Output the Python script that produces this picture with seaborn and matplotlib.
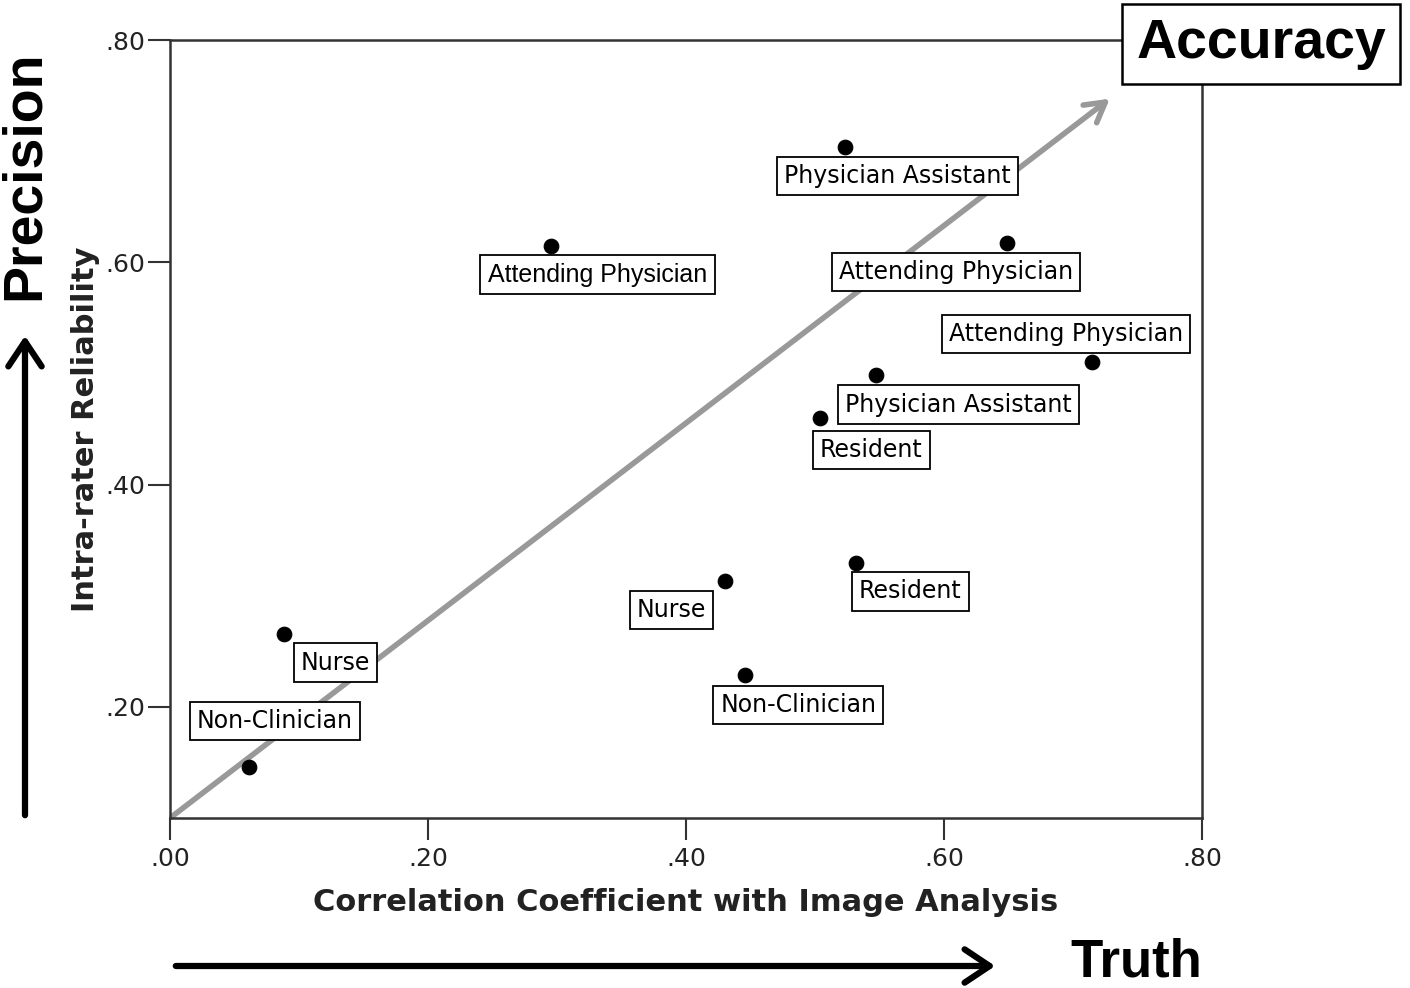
import matplotlib
matplotlib.use("Agg")
import matplotlib.pyplot as plt
from matplotlib.patches import FancyArrowPatch
import pandas as pd
import seaborn as sns

# values
roles = [
  "Non-Clinician", "Nurse", "Attending Physician", "Nurse", "Non-Clinician", "Resident",
  "Physician Assistant", "Resident", "Physician Assistant", "Attending Physician", "Attending Physician",
]
correlation = [0.061, 0.088, 0.295, 0.430, 0.446, 0.504, 0.523, 0.532, 0.547, 0.649, 0.715]
reliability = [0.146, 0.266, 0.615, 0.313, 0.229, 0.460, 0.704, 0.329, 0.499, 0.617, 0.510]
tick_values = [0.0, 0.2, 0.4, 0.6, 0.8]
tick_labels = [".00", ".20", ".40", ".60", ".80"]

# label offsets from each point, in pixels (dx right, dy down)
label_offsets = [(26, -46), (52, 29), (47, 29), (-53, 29), (53, 30), (51, 32),
                 (53, 29), (54, 28), (83, 30), (-51, 29), (-26, -28)]

df = pd.DataFrame({"role": roles, "x": correlation, "y": reliability})

sns.set_style("white")
plt.rcParams["font.family"] = ["DejaVu Sans"]

fig = plt.figure(figsize=(14.1, 9.88), dpi=100)
ax = fig.add_axes([170 / 1410, 1 - 818 / 988, (1202 - 170) / 1410, (818 - 40) / 988])

# gray "accuracy" arrow drawn first, under the points
ax.annotate("", xy=(1112, 988 - 97), xycoords="figure pixels", xytext=(170, 988 - 818),
            textcoords="figure pixels",
            arrowprops=dict(arrowstyle="->,head_length=1.4,head_width=0.8", color="#999999", lw=4),
            zorder=1, annotation_clip=False)

sns.scatterplot(data=df, x="x", y="y", ax=ax, color="black", s=110, edgecolor="black", zorder=3, legend=False)

for i, (role, xv, yv) in enumerate(zip(roles, correlation, reliability)):
  dx, dy = label_offsets[i]
  fam = "Liberation Sans" if i == 2 else "DejaVu Sans"
  fs = 18 if i == 2 else 17
  ax.annotate(role, xy=(xv, yv), xytext=(dx * 0.72, -dy * 0.72), textcoords="offset points",
              ha="center", va="center", fontsize=fs, family=fam, color="black", zorder=4,
              bbox=dict(boxstyle="square,pad=0.3", fc="white", ec="black", lw=1.3))

ax.set_xlim(0, 0.8)
ax.set_ylim(0.10, 0.80)
ax.set_xticks(tick_values)
ax.set_xticklabels(tick_labels)
ax.set_yticks(tick_values[1:])
ax.set_yticklabels(tick_labels[1:])
ax.tick_params(axis="both", direction="out", length=16, width=1.5, color="#333333",
               labelsize=18, labelcolor="#222222", pad=2, left=True, bottom=True)
ax.tick_params(axis="x", pad=5)
for sp in ax.spines.values():
  sp.set_visible(True)
  sp.set_color("#333333")
  sp.set_linewidth(1.8)

ax.set_xlabel("Correlation Coefficient with Image Analysis", fontsize=22, fontweight="bold",
              color="#222222", labelpad=12)
ax.set_ylabel("Intra-rater Reliability", fontsize=22, fontweight="bold", color="#222222", labelpad=4)

# Accuracy box
fig.text(1261 / 1410, 1 - 44 / 988, "Accuracy", fontsize=40, fontweight="bold", family="Liberation Sans",
         color="black", ha="center", va="center",
         bbox=dict(boxstyle="square,pad=0.25", fc="white", ec="black", lw=1.8), zorder=10)

# Precision / Truth side arrows
fig.text(25 / 1410, 1 - 175 / 988, "Precision", fontsize=40, fontweight="bold", family="Liberation Sans",
         color="black", rotation=90, ha="center", va="center")
fig.patches.append(FancyArrowPatch(
  (25 / 1410, 1 - 818 / 988), (25 / 1410, 1 - 333 / 988), transform=fig.transFigure,
  arrowstyle="->,head_length=0.9,head_width=0.6", mutation_scale=20, color="black", lw=4.5))
fig.patches.append(FancyArrowPatch(
  (173 / 1410, 1 - 966 / 988), (998 / 1410, 1 - 966 / 988), transform=fig.transFigure,
  arrowstyle="->,head_length=0.9,head_width=0.6", mutation_scale=20, color="black", lw=4.5))
fig.text(1136 / 1410, 1 - 962 / 988, "Truth", fontsize=38, fontweight="bold",
         family=["Liberation Sans Narrow", "Liberation Sans"], color="black", ha="center", va="center")

fig.savefig("out.png", dpi=100)
